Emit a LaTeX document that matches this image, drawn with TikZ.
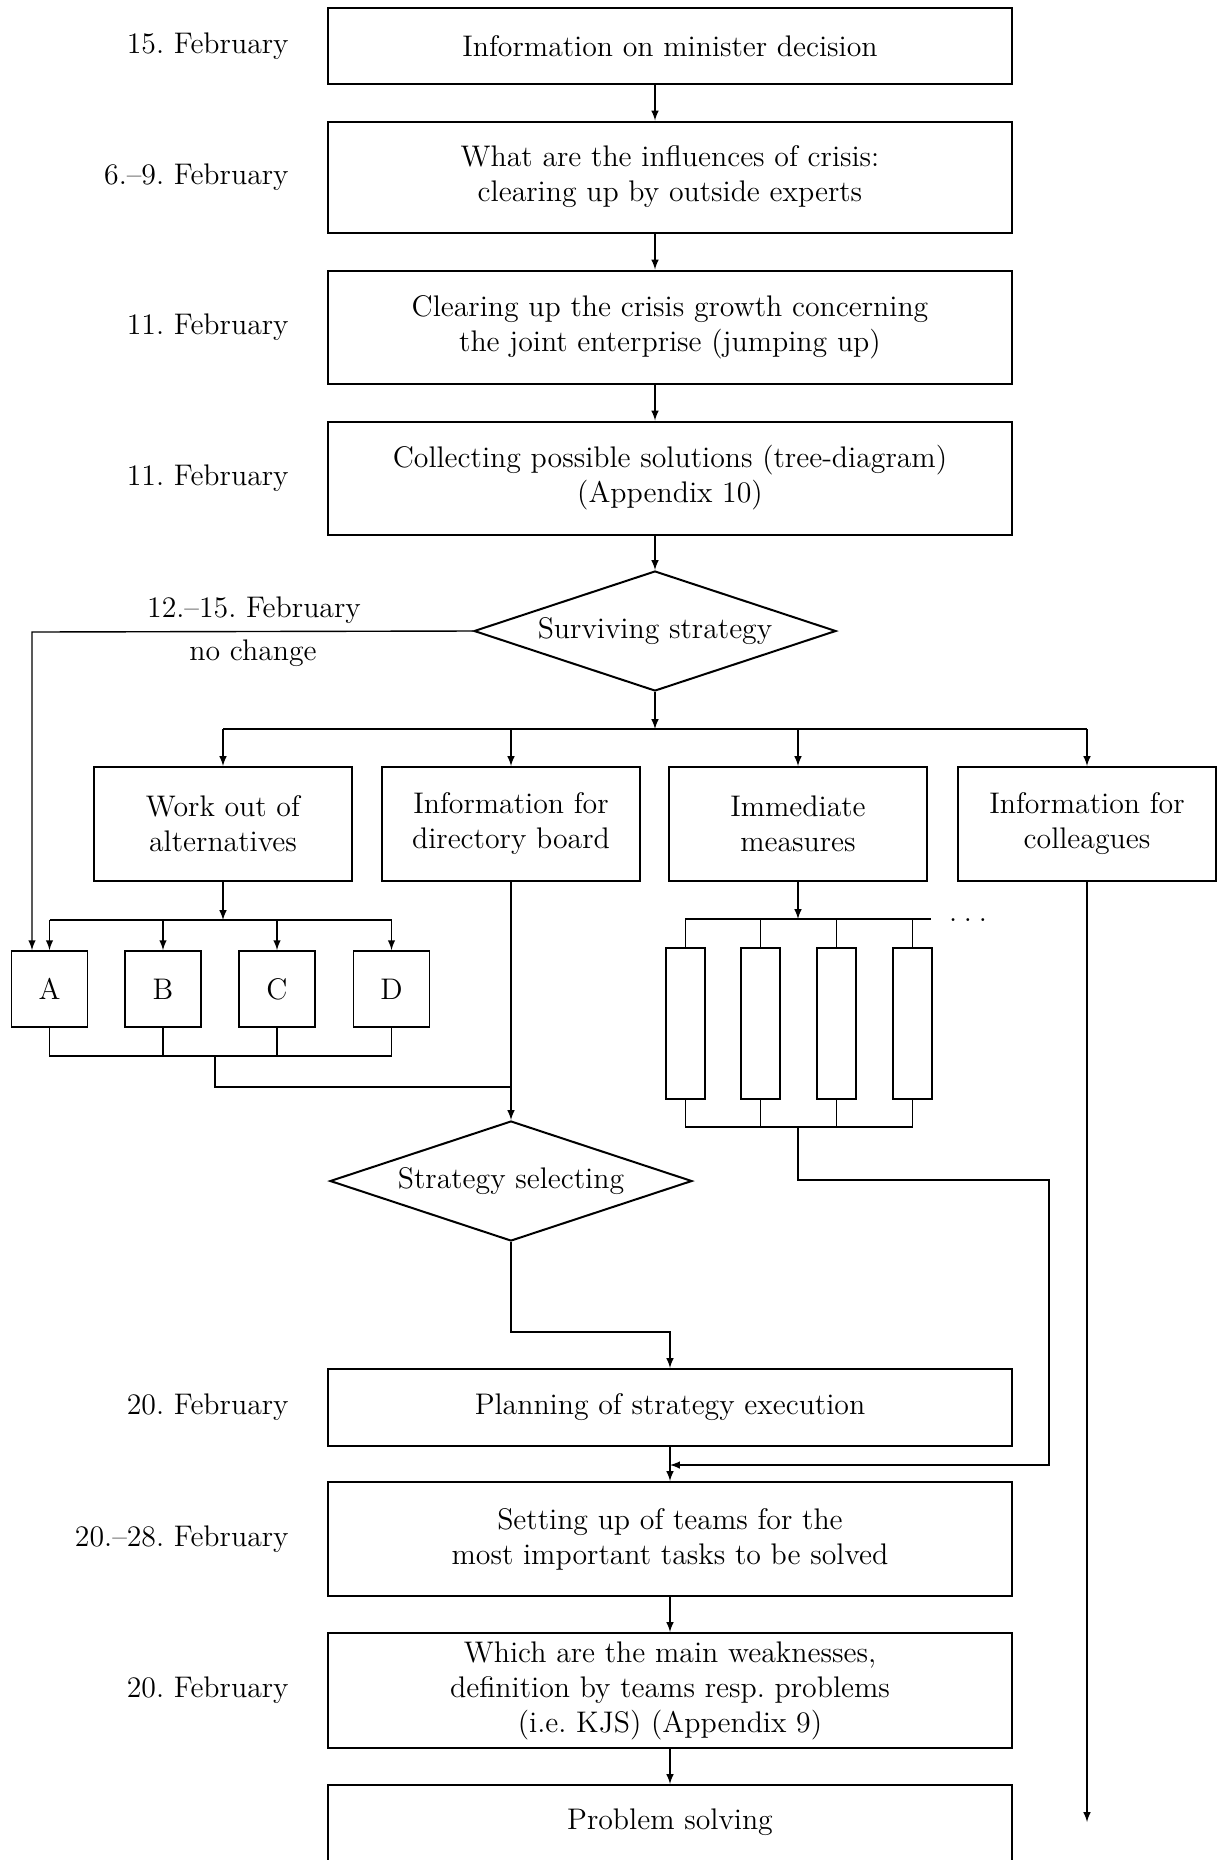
\documentclass[tikz,border=0pt]{standalone}
\usepackage{tikz}
\usetikzlibrary{shapes}
\usetikzlibrary{positioning}

\begin{document}
\frenchspacing
\begin{tikzpicture}[
  x=0.5pt, y=-0.5pt,
  font=\fontsize{14.9}{17.5}\selectfont,
  box/.style={draw, line width=1pt, align=center, inner sep=2pt},
  stepbox/.style={box, minimum width=342pt},
  sidebox/.style={box, minimum width=129pt, minimum height=57pt},
  altbox/.style={draw, line width=0.9pt, minimum width=38pt, minimum height=38pt, inner sep=0pt},
  measbox/.style={draw, line width=0.9pt, minimum width=19.5pt, minimum height=75.5pt, inner sep=0pt},
  decision/.style={diamond, draw, line width=1pt, aspect=3.02, minimum width=181pt, minimum height=60pt, inner sep=0pt},
  datelabel/.style={inner sep=0pt},
  link/.style={line width=0.7pt}
]
\useasboundingbox (0,0) rectangle (1218,1860);
\clip (0,0) rectangle (1218,1860);

% main column
\node[stepbox, minimum height=38pt] (info) at (670,46) {Information on minister decision};
\node[stepbox, minimum height=55.5pt] (influence) at (670,177) {What are the influences of crisis:\\clearing up by outside experts};
\node[stepbox, minimum height=56.5pt] (growth) at (670,327) {Clearing up the crisis growth concerning\\the joint enterprise (jumping up)};
\node[stepbox, minimum height=56.5pt] (collect) at (670,478) {Collecting possible solutions (tree-diagram)\\(Appendix 10)};
\node[decision] (survive) at (655,631) {Surviving strategy};

% dates
\node[datelabel, left=19pt of info] (d15) {15. February};
\node[datelabel, left=19pt of influence] (d69) {6.--9. February};
\node[datelabel, left=19pt of growth] (d11a) {11. February};
\node[datelabel, left=19pt of collect] (d11b) {11. February};

\node (period) at (254,610) {12.--15. February};
\node (nochange) at (253,653) {no change};

% branches
\node[sidebox] (work) at (223,824) {Work out of\\alternatives};
\node[sidebox] (board) at (511,824) {Information for\\directory board};
\node[sidebox] (measures) at (798,824) {Immediate\\measures};
\node[sidebox] (colleagues) at (1087,824) {Information for\\colleagues};

\node[altbox] (A) at (49.5,989) {A};
\node[altbox] (B) at (163,989) {B};
\node[altbox] (C) at (277,989) {C};
\node[altbox] (D) at (391.5,989) {D};

\node[measbox] (m1) at (685.5,1023.5) {};
\node[measbox] (m2) at (760.5,1023.5) {};
\node[measbox] (m3) at (836.5,1023.5) {};
\node[measbox] (m4) at (912.5,1023.5) {};
\node[anchor=base, inner sep=0pt] (more) at (968,921) {.\hspace{3.4pt}.\hspace{3.4pt}.};

\node[decision] (select) at (511,1181) {Strategy selecting};

% lower column
\node[stepbox, minimum height=38.5pt] (plan) at (670,1407.5) {Planning of strategy execution};
\node[stepbox, minimum height=57pt] (teams) at (670,1539) {Setting up of teams for the\\most important tasks to be solved};
\node[stepbox, minimum height=57.5pt] (weak) at (670,1690.5) {Which are the main weaknesses,\\definition by teams resp. problems\\(i.e. KJS) (Appendix 9)};
\node[stepbox, minimum height=57pt, anchor=north] (solve) at (670,1784) {Problem solving\\\strut};

\node[datelabel, left=19pt of plan] (d20a) {20. February};
\node[datelabel, left=19pt of teams] (d2028) {20.--28. February};
\node[datelabel, left=19pt of weak] (d20b) {20. February};

\coordinate (split) at (655,729);
\coordinate (back) at (32,632);
\coordinate (wsplit) at (223,920);
\coordinate (abot) at (215,1056);
\coordinate (ajoin) at (511,1087);
\coordinate (msplit) at (798,919);
\coordinate (mend) at (931,919);
\coordinate (mbot) at (798,1127);
\coordinate (mturn) at (1049,1180);
\coordinate (mback) at (670,1465);
\coordinate (sturn) at (511,1332);
\coordinate (cend) at (1087,1822);

\draw[link,-latex] (info.south -| survive) -- (influence.north -| survive);
\draw[link,-latex] (influence.south -| survive) -- (growth.north -| survive);
\draw[link,-latex] (growth.south -| survive) -- (collect.north -| survive);
\draw[link,-latex] (collect.south -| survive) -- (survive.north);

\draw[link,-latex] (survive.south) -- (split);
\draw[link] (work.north |- split) -- (colleagues.north |- split);
\draw[link,-latex] (work.north |- split) -- (work.north);
\draw[link,-latex] (board.north |- split) -- (board.north);
\draw[link,-latex] (measures.north |- split) -- (measures.north);
\draw[link,-latex] (colleagues.north |- split) -- (colleagues.north);

\draw[link,-latex] (survive.west) -- (back) -- (back |- A.north);

\draw[link,-latex] (work.south) -- (wsplit);
\draw[link] (A.north |- wsplit) -- (D.north |- wsplit);
\draw[link,-latex] (A.north |- wsplit) -- (A.north);
\draw[link,-latex] (B.north |- wsplit) -- (B.north);
\draw[link,-latex] (C.north |- wsplit) -- (C.north);
\draw[link,-latex] (D.north |- wsplit) -- (D.north);

\draw[link] (A.south) |- (abot) -| (D.south);
\draw[link] (B.south) -- (B.south |- abot);
\draw[link] (C.south) -- (C.south |- abot);
\draw[link] (abot) |- (ajoin);

\draw[link,-latex] (board.south) -- (select.north);

\draw[link,-latex] (measures.south) -- (msplit);
\draw[link] (m1.north) |- (mend);
\draw[link] (m2.north) -- (m2.north |- mend);
\draw[link] (m3.north) -- (m3.north |- mend);
\draw[link] (m4.north) -- (m4.north |- mend);

\draw[link] (m1.south) |- (mbot) -| (m4.south);
\draw[link] (m2.south) -- (m2.south |- mbot);
\draw[link] (m3.south) -- (m3.south |- mbot);
\draw[link,-latex] (mbot) |- (mturn) |- (mback);

\draw[link,-latex] (select.south) -- (sturn) -| (plan.north);
\draw[link,-latex] (plan.south) -- (teams.north);
\draw[link,-latex] (teams.south) -- (weak.north);
\draw[link,-latex] (weak.south) -- (solve.north);

\draw[link,-latex] (colleagues.south) -- (cend);

\end{tikzpicture}
\end{document}
